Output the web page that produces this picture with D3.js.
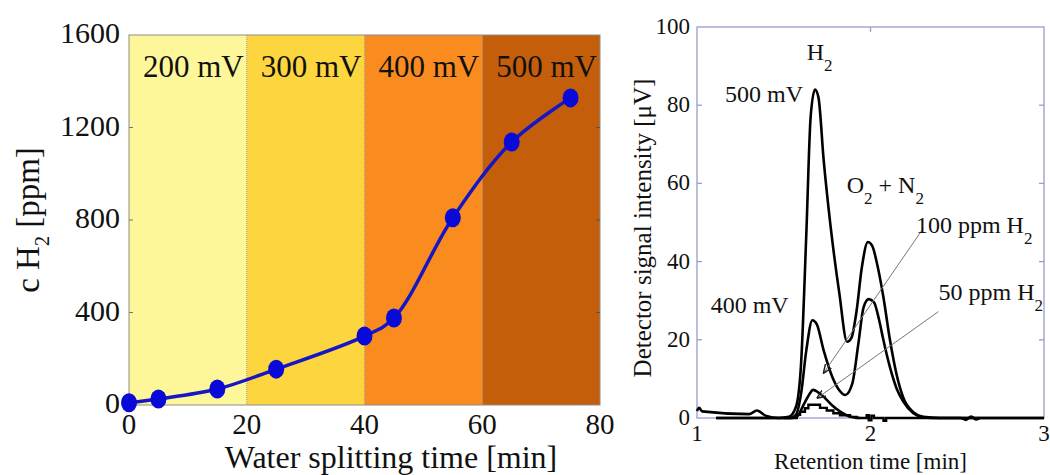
<!DOCTYPE html>
<html>
<head>
<meta charset="utf-8">
<script src="https://cdn.jsdelivr.net/npm/d3@7"></script>
<style>
  html, body { margin: 0; padding: 0; background: #ffffff; }
  svg { display: block; }
  text { font-family: "Liberation Serif", "DejaVu Serif", serif; fill: #111; }
</style>
</head>
<body>
<svg id="chart" width="1050" height="475"></svg>
<script>
// ---------- Left panel data ----------
const timeMin = [0, 5, 15, 25, 40, 45, 55, 65, 75];
const cH2 = [10, 26, 69, 155, 298, 376, 810, 1137, 1328];
const bandStart = [0, 20, 40, 60];
const bandEnd = [20, 40, 60, 80];
const bandLabels = ["200 mV", "300 mV", "400 mV", "500 mV"];
const leftXTicks = [0, 20, 40, 60, 80];
const leftYTicks = [0, 400, 800, 1200, 1600];

// ---------- Right panel data ----------
const rt500 = [1.000, 1.012, 1.030, 1.300, 1.345, 1.400, 1.470, 1.530, 1.570, 1.600, 1.630, 1.655, 1.680, 1.700, 1.730, 1.770, 1.820, 1.865, 1.890, 1.920, 1.950, 1.985, 2.010, 2.040, 2.074, 2.112, 2.151, 2.189, 2.247, 2.304, 2.400, 3.000];
const sig500 = [1.8, 2.6, 1.7, 1.0, 1.9, 0.5, 0.0, 0.3, 2.8, 14, 47, 77, 84, 82, 66, 49, 32, 19.5, 20.5, 27.5, 38.5, 45, 44, 39, 31, 20, 11, 5.2, 1.5, 0.3, 0, 0];
const rt400 = [1.110, 1.540, 1.570, 1.600, 1.630, 1.665, 1.690, 1.730, 1.780, 1.820, 1.855, 1.895, 1.930, 1.960, 1.990, 2.020, 2.050, 2.074, 2.112, 2.151, 2.189, 2.247, 2.300, 2.350, 2.520, 2.550, 2.580, 2.610, 2.630];
const sig400 = [0, 0, 0.8, 6.3, 17.3, 25, 24, 17.3, 10.5, 7.1, 5.9, 8.8, 19, 28.3, 30.4, 29.6, 25, 20, 13, 7.5, 4.2, 1.2, 0.2, 0, 0, -0.5, 0.4, -0.4, 0];
const rt100 = [1.110, 1.550, 1.580, 1.610, 1.640, 1.670, 1.700, 1.740, 1.780, 1.830, 1.880, 1.940];
const sig100 = [0, 0, 0.5, 3.0, 5.5, 7.2, 6.5, 5.0, 3.2, 1.5, 0.4, 0];
const rt50 = [1.500, 1.575, 1.594, 1.622, 1.642, 1.709, 1.748, 1.786, 1.824, 1.882, 1.920, 1.978, 1.990, 2.005, 2.020, 2.035, 2.075, 2.090, 3.000];
const sig50 = [0, 0.8, 1.6, 2.5, 3.4, 2.6, 1.9, 1.2, 0.7, 0.3, 0, 0.7, -0.6, 0.6, 0, 0, -0.7, 0, 0];
const rightXTicks = [1, 2, 3];
const rightYTicks = [0, 20, 40, 60, 80, 100];

// ---------- Styles ----------
const bandColors = ["#FEF79A", "#FCD53F", "#FA8B1F", "#C55E0B"];
const lineBlue = "#1616C4";
const dotBlue = "#0A0AD8";
const frameLeft = "#8C8C8C";
const frameRight = "#9A9ACB";

const svg = d3.select("#chart");

// ================= LEFT PANEL =================
const xL = d3.scaleLinear().domain([0, 80]).range([129, 600]);
const yL = d3.scaleLinear().domain([0, 1600]).range([405, 35]);
const gL = svg.append("g");

gL.selectAll("rect.band").data(bandStart).join("rect")
  .attr("class", "band")
  .attr("x", (d) => xL(d))
  .attr("y", yL(1600))
  .attr("width", (d, i) => xL(bandEnd[i]) - xL(d))
  .attr("height", yL(0) - yL(1600))
  .attr("fill", (d, i) => bandColors[i]);

// band separators (dotted)
gL.selectAll("line.sep").data(bandStart.slice(1)).join("line")
  .attr("x1", (d) => xL(d)).attr("x2", (d) => xL(d))
  .attr("y1", yL(1600)).attr("y2", yL(0))
  .attr("stroke", "#9a9a9a").attr("stroke-width", 1)
  .attr("stroke-dasharray", "1,1");

// frame
gL.append("rect")
  .attr("x", xL(0)).attr("y", yL(1600))
  .attr("width", xL(80) - xL(0)).attr("height", yL(0) - yL(1600))
  .attr("fill", "none").attr("stroke", frameLeft).attr("stroke-width", 1);

// y ticks (inward, both sides)
gL.selectAll("line.ytl").data(leftYTicks.slice(1, -1)).join("line")
  .attr("x1", xL(80)).attr("x2", xL(80) - 4)
  .attr("y1", (d) => yL(d)).attr("y2", (d) => yL(d))
  .attr("stroke", "#555").attr("stroke-width", 1);
gL.selectAll("line.ytl2").data(leftYTicks.slice(1, -1)).join("line")
  .attr("x1", xL(0)).attr("x2", xL(0) + 4)
  .attr("y1", (d) => yL(d)).attr("y2", (d) => yL(d))
  .attr("stroke", "#777").attr("stroke-width", 1);

// band labels
gL.selectAll("text.bandlab").data(bandLabels).join("text")
  .attr("x", (d, i) => xL(bandStart[i]) + 14)
  .attr("y", yL(1418))
  .attr("font-size", 31)
  .text((d) => d);

// tick labels
gL.selectAll("text.xl").data(leftXTicks).join("text")
  .attr("x", (d) => xL(d)).attr("y", 434)
  .attr("text-anchor", "middle").attr("font-size", 29)
  .text((d) => d);
gL.selectAll("text.yl").data(leftYTicks).join("text")
  .attr("x", xL(0) - 9).attr("y", (d) => yL(d) + 8)
  .attr("text-anchor", "end").attr("font-size", 30)
  .text((d) => d);

// axis titles
gL.append("text")
  .attr("x", 391).attr("y", 468)
  .attr("text-anchor", "middle").attr("font-size", 32)
  .text("Water splitting time [min]");
const yt = gL.append("text")
  .attr("transform", "translate(39," + ((yL(0) + yL(1600)) / 2) + ") rotate(-90)")
  .attr("text-anchor", "middle").attr("font-size", 33);
yt.append("tspan").text("c H");
yt.append("tspan").attr("font-size", 20).attr("dy", 10).text("2");
yt.append("tspan").attr("dy", -10).text(" [ppm]");

// line + markers
const lineL = d3.line()
  .x((d, i) => xL(timeMin[i])).y((d) => yL(d))
  .curve(d3.curveCatmullRom.alpha(0.5));
gL.append("path").datum(cH2)
  .attr("d", lineL).attr("fill", "none")
  .attr("stroke", lineBlue).attr("stroke-width", 3.5);
gL.selectAll("ellipse.dot").data(cH2).join("ellipse")
  .attr("cx", (d, i) => xL(timeMin[i])).attr("cy", (d) => yL(d))
  .attr("rx", 8).attr("ry", 9.5)
  .attr("fill", dotBlue);

// ================= RIGHT PANEL =================
const xR = d3.scaleLinear().domain([1, 3]).range([697, 1044]);
const yR = d3.scaleLinear().domain([0, 100]).range([418, 27]);
const gR = svg.append("g");

gR.append("rect")
  .attr("x", xR(1)).attr("y", yR(100))
  .attr("width", xR(3) - xR(1)).attr("height", yR(0) - yR(100))
  .attr("fill", "none").attr("stroke", frameRight).attr("stroke-width", 1.3);

// ticks inward
gR.selectAll("line.ryl").data(rightYTicks.slice(1, -1)).join("line")
  .attr("x1", xR(1)).attr("x2", xR(1) + 5)
  .attr("y1", (d) => yR(d)).attr("y2", (d) => yR(d))
  .attr("stroke", frameRight).attr("stroke-width", 1.3);
gR.selectAll("line.ryr").data(rightYTicks.slice(1, -1)).join("line")
  .attr("x1", xR(3)).attr("x2", xR(3) - 5)
  .attr("y1", (d) => yR(d)).attr("y2", (d) => yR(d))
  .attr("stroke", frameRight).attr("stroke-width", 1.3);
gR.selectAll("line.rxt").data(rightXTicks.slice(1, -1)).join("line")
  .attr("x1", (d) => xR(d)).attr("x2", (d) => xR(d))
  .attr("y1", yR(100)).attr("y2", yR(100) + 5)
  .attr("stroke", frameRight).attr("stroke-width", 1.3);

// tick labels
gR.selectAll("text.rxl").data(rightXTicks).join("text")
  .attr("x", (d) => xR(d)).attr("y", 441)
  .attr("text-anchor", "middle").attr("font-size", 23)
  .text((d) => d);
gR.selectAll("text.ryl").data(rightYTicks).join("text")
  .attr("x", xR(1) - 7).attr("y", (d) => yR(d) + 7)
  .attr("text-anchor", "end").attr("font-size", 23)
  .text((d) => d);

// titles
gR.append("text")
  .attr("x", (xR(1) + xR(3)) / 2).attr("y", 469)
  .attr("text-anchor", "middle").attr("font-size", 23)
  .text("Retention time [min]");
gR.append("text")
  .attr("transform", "translate(651,228) rotate(-90)")
  .attr("text-anchor", "middle").attr("font-size", 25)
  .text("Detector signal intensity [\u03BCV]");

// curves
const mk = (xs) => d3.line().x((d, i) => xR(xs[i])).y((d) => yR(d)).curve(d3.curveMonotoneX);
const curves = [
  { xs: rt500, ys: sig500 },
  { xs: rt400, ys: sig400 },
  { xs: rt100, ys: sig100 }
];
curves.forEach((c) => {
  gR.append("path").datum(c.ys)
    .attr("d", mk(c.xs)).attr("fill", "none")
    .attr("stroke", "#000").attr("stroke-width", 2.6)
    .attr("stroke-linejoin", "round");
});
gR.append("path").datum(sig50)
  .attr("d", d3.line().x((d, i) => xR(rt50[i])).y((d) => yR(d)).curve(d3.curveStepAfter))
  .attr("fill", "none").attr("stroke", "#000").attr("stroke-width", 2.4);

// arrows
const defs = svg.append("defs");
defs.append("marker").attr("id", "arr")
  .attr("viewBox", "0 0 10 10").attr("refX", 10).attr("refY", 5)
  .attr("markerWidth", 9).attr("markerHeight", 9).attr("orient", "auto")
  .append("path").attr("d", "M0,1 L10,5 L0,9").attr("fill", "none")
  .attr("stroke", "#222").attr("stroke-width", 1.6);
const arrowFrom = [[2.304, 48.5], [2.391, 27.2]];
const arrowTo = [[1.728, 11.4], [1.690, 5.0]];
gR.selectAll("line.arrow").data(arrowFrom).join("line")
  .attr("x1", (d) => xR(d[0])).attr("y1", (d) => yR(d[1]))
  .attr("x2", (d, i) => xR(arrowTo[i][0])).attr("y2", (d, i) => yR(arrowTo[i][1]))
  .attr("stroke", "#777").attr("stroke-width", 1)
  .attr("marker-end", "url(#arr)");

// annotations
function label(t, v, parts, anchor) {
  const tx = gR.append("text")
    .attr("x", xR(t)).attr("y", yR(v))
    .attr("font-size", 24)
    .attr("text-anchor", anchor || "start");
  parts.forEach((p) => {
    if (p.sub) {
      tx.append("tspan").attr("font-size", 17).attr("dy", 11).text(p.text);
    } else {
      tx.append("tspan").attr("dy", p.up ? -11 : 0).text(p.text);
    }
  });
}
label(1.632, 91.6, [{ text: "H" }, { text: "2", sub: true }]);
label(1.611, 80.9, [{ text: "500 mV" }], "end");
label(1.863, 57.5, [{ text: "O" }, { text: "2", sub: true }, { text: " + N", up: true }, { text: "2", sub: true }]);
label(2.262, 47.3, [{ text: "100 ppm H" }, { text: "2", sub: true }]);
label(2.392, 30.2, [{ text: "50 ppm H" }, { text: "2", sub: true }]);
label(1.079, 26.9, [{ text: "400 mV" }]);
</script>
</body>
</html>
